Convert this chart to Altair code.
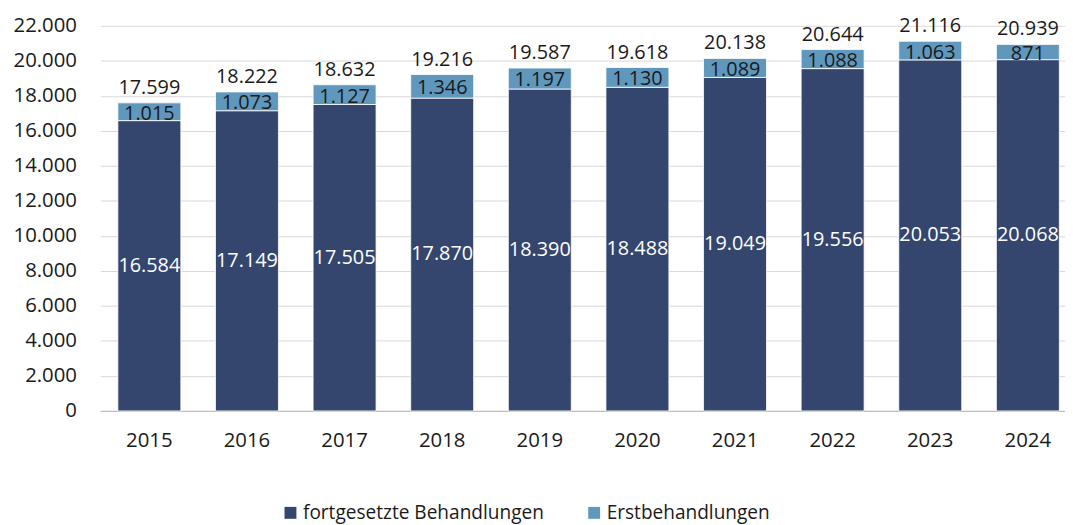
import altair as alt
import pandas as pd

years = ["2015", "2016", "2017", "2018", "2019", "2020", "2021", "2022", "2023", "2024"]
fortgesetzt = [16584, 17149, 17505, 17870, 18390, 18488, 19049, 19556, 20053, 20068]
erst = [1015, 1073, 1127, 1346, 1197, 1130, 1089, 1088, 1063, 871]

series_names = ["fortgesetzte Behandlungen", "Erstbehandlungen"]
series_colors = ["#34466E", "#6097BD"]
y_ticks = list(range(0, 22001, 2000))

FONT = "Open Sans"

rows = []
for i, yr in enumerate(years):
    rows.append({"Jahr": yr, "Serie": series_names[0], "Wert": fortgesetzt[i], "ord": 0})
    rows.append({"Jahr": yr, "Serie": series_names[1], "Wert": erst[i], "ord": 1})
long_df = pd.DataFrame(rows)
wide_df = pd.DataFrame({"Jahr": years, "f": fortgesetzt, "e": erst})

xscale = alt.Scale(range=[0, 984], paddingInner=0.355, paddingOuter=0.18)
yscale = alt.Scale(domain=[0, 22000], nice=False)
fmt = "replace(format({v}, ','), ',', '.')"

x_axis = alt.Axis(title=None, labelAngle=0, ticks=False, labelFontSize=20.5,
                  labelFont=FONT, labelColor="#1a1a1a", labelPadding=20,
                  domainColor="#BFBFBF", domainWidth=1.2, grid=False)
y_axis = alt.Axis(title=None, values=y_ticks, ticks=False, domain=False,
                  labelFontSize=20.5, labelFont=FONT, labelColor="#1a1a1a",
                  labelPadding=24, gridColor="#D9D9D9", gridWidth=1,
                  labelExpr=fmt.format(v="datum.value"))

bars = alt.Chart(long_df).mark_bar(stroke="white", strokeWidth=0.8).encode(
    x=alt.X("Jahr:N", scale=xscale, sort=years, axis=x_axis),
    y=alt.Y("sum(Wert):Q", scale=yscale, axis=y_axis),
    color=alt.Color("Serie:N", sort=series_names,
                    scale=alt.Scale(domain=series_names, range=series_colors),
                    legend=alt.Legend(orient="none", legendX=182, legendY=481,
                                      direction="horizontal", title=None,
                                      symbolType="square", symbolSize=144,
                                      symbolStrokeWidth=0, labelFontSize=19.2,
                                      labelFont=FONT, labelColor="#1a1a1a",
                                      labelLimit=500,
                                      columnPadding=41, labelOffset=3)),
    order=alt.Order("ord:Q", sort="ascending"),
)

base = alt.Chart(wide_df).transform_calculate(
    mid_f="datum.f / 2",
    mid_e="datum.f + datum.e / 2",
    total="datum.f + datum.e",
    lab_f=fmt.format(v="datum.f"),
    lab_e=fmt.format(v="datum.e"),
    lab_t=fmt.format(v="datum.f + datum.e"),
)

x_enc = alt.X("Jahr:N", scale=xscale, sort=years, axis=x_axis)

text_f = base.mark_text(fontSize=20, font=FONT, color="white", baseline="middle").encode(
    x=x_enc, y=alt.Y("mid_f:Q", scale=yscale, axis=y_axis), text="lab_f:N")
text_e = base.mark_text(fontSize=20, font=FONT, color="#1a1a1a", baseline="middle", dy=2).encode(
    x=x_enc, y=alt.Y("mid_e:Q", scale=yscale, axis=y_axis), text="lab_e:N")
text_t = base.mark_text(fontSize=20, font=FONT, color="#1a1a1a", baseline="middle", dy=-15).encode(
    x=x_enc, y=alt.Y("total:Q", scale=yscale, axis=y_axis), text="lab_t:N")

chart = alt.layer(bars, text_f, text_e, text_t).properties(
    width=972, height=388,
    padding={"left": 93, "top": 16, "right": 0, "bottom": 113},
    autosize=alt.AutoSizeParams(type="none"),
).configure(font=FONT).configure_view(stroke=None)

chart.save("out.html", embed_options={"renderer": "svg", "actions": False})
